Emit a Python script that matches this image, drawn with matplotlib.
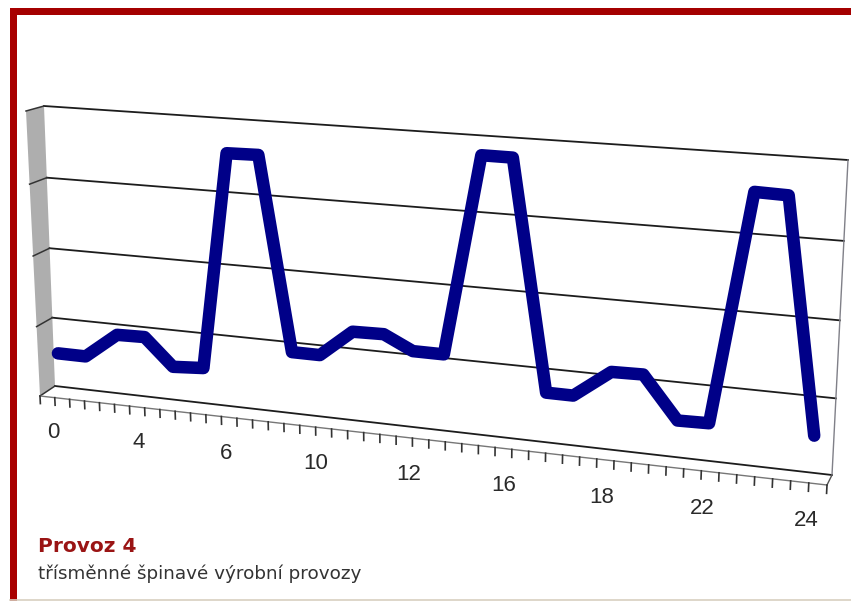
"""
Provoz 4 - hourly load, drawn like an old Excel 3D line chart.
The walls are done with a small perspective transform on top of a pixel axes.
"""

import numpy as np
import matplotlib
matplotlib.use("Agg")
import matplotlib.pyplot as plt
from matplotlib.transforms import Transform

# data, x in axis ticks (48 ticks along the axis), y in gridline units
point_pos = [0.1, 2.05, 4.3, 6.2, 8.1, 10.17, 12.0, 14.07, 16.1, 17.93, 20.05, 22.05, 23.9,
             25.85, 28.05, 29.95, 32.2, 33.85, 36.1, 38.0, 40.1, 41.95, 44.0, 45.92, 48]
values = [0.55, 0.55, 0.91, 0.92, 0.54, 0.57, 3.57, 3.58, 0.93, 0.93, 1.30, 1.31, 1.12,
          1.12, 3.80, 3.80, 0.75, 0.75, 1.12, 1.13, 0.57, 0.58, 3.60, 3.59, 0.57]
grid_levels = [0, 1, 2, 3, 4]
tick_pos = list(range(0, 49))
label_pos = [0, 6, 12, 18, 24, 30, 36, 42, 48]
tick_labels = ["0", "4", "6", "10", "12", "16", "18", "22", "24"]
title = "Provoz 4"
subtitle = "třísměnné špinavé výrobní provozy"


class Perspective(Transform):
    """maps (tick, level) onto a quad given in image pixels"""
    input_dims = 2
    output_dims = 2

    def __init__(self, bl, br, tr, tl):
        super().__init__()
        src = [(0, 0), (48, 0), (48, 4), (0, 4)]
        a, b = [], []
        for (x, y), (px, py) in zip(src, [bl, br, tr, tl]):
            a.append([x, y, 1, 0, 0, 0, -px * x, -px * y])
            a.append([0, 0, 0, x, y, 1, -py * x, -py * y])
            b += [px, py]
        self.h = np.append(np.linalg.solve(np.array(a, float), np.array(b, float)), 1).reshape(3, 3)

    def transform_non_affine(self, values):
        pts = np.column_stack([values, np.ones(len(values))]) @ self.h.T
        return pts[:, :2] / pts[:, 2:]


fig = plt.figure(figsize=(8.51, 6.02), dpi=100)
ax = fig.add_axes([0, 0, 1, 1])
ax.set_xlim(0, 851)
ax.set_ylim(602, 0)
ax.axis("off")

back = Perspective((55, 386), (832, 475), (848, 160), (44, 106))
front = Perspective((40, 396), (827, 485), (843, 170), (26, 111))
middle = Perspective((58, 391), (812, 479), (828, 165), (47, 108))
labels = Perspective((53, 433), (806, 521), (822, 207), (42, 150))

# frame of the page
ax.fill([10, 851, 851, 10], [8, 8, 15, 15], color="#a40000", lw=0)
ax.fill([10, 17, 17, 10], [8, 8, 601, 601], color="#a80000", lw=0)
ax.plot([10, 851], [600, 600], color="#d8d0c0", lw=1.2)

# side wall
side = np.vstack([back.transform([(0, 0), (0, 4)]), front.transform([(0, 4), (0, 0)])])
ax.fill(side[:, 0], side[:, 1], color="#aeaeae", lw=0, zorder=1)

# gridlines, with the little stub across the side wall
for level in grid_levels:
    ax.plot([0, 48], [level, level], color="#1c1c1c", lw=1.3, transform=back + ax.transData, zorder=2)
    stub = np.vstack([back.transform([(0, level)]), front.transform([(0, level)])])
    ax.plot(stub[:, 0], stub[:, 1], color="#333333", lw=1.1, zorder=2)

# right edge and floor edges
ax.plot([48, 48], [0, 4], color="#808088", lw=1.0, transform=back + ax.transData, zorder=2)
corner = np.vstack([back.transform([(48, 0)]), front.transform([(48, 0)])])
ax.plot(corner[:, 0], corner[:, 1], color="#555555", lw=1.0, zorder=2)

# category axis
ax.plot([0, 48], [0, 0], color="#777777", lw=1.0, transform=front + ax.transData, zorder=2)
for t in tick_pos:
    ax.plot([t, t], [0, -0.11], color="#333333", lw=1.2, transform=front + ax.transData, zorder=2)
for pos, lab in zip(label_pos, tick_labels):
    x, y = labels.transform([(pos, 0)])[0]
    ax.text(x, y, lab, fontsize=16, family="Liberation Sans", color="#2a2a2a",
            ha="center", va="center", zorder=3)

# the series
ax.plot(point_pos, values, color="#000088", lw=9, solid_joinstyle="round", solid_capstyle="round",
        transform=middle + ax.transData, zorder=4)

ax.text(38, 547, title, fontsize=14.5, fontweight="bold", family="DejaVu Sans", color="#9a1414",
        ha="left", va="center")
ax.text(38, 574, subtitle, fontsize=13.2, family="DejaVu Sans", color="#333333", ha="left", va="center")

fig.savefig("out.png", dpi=100)
